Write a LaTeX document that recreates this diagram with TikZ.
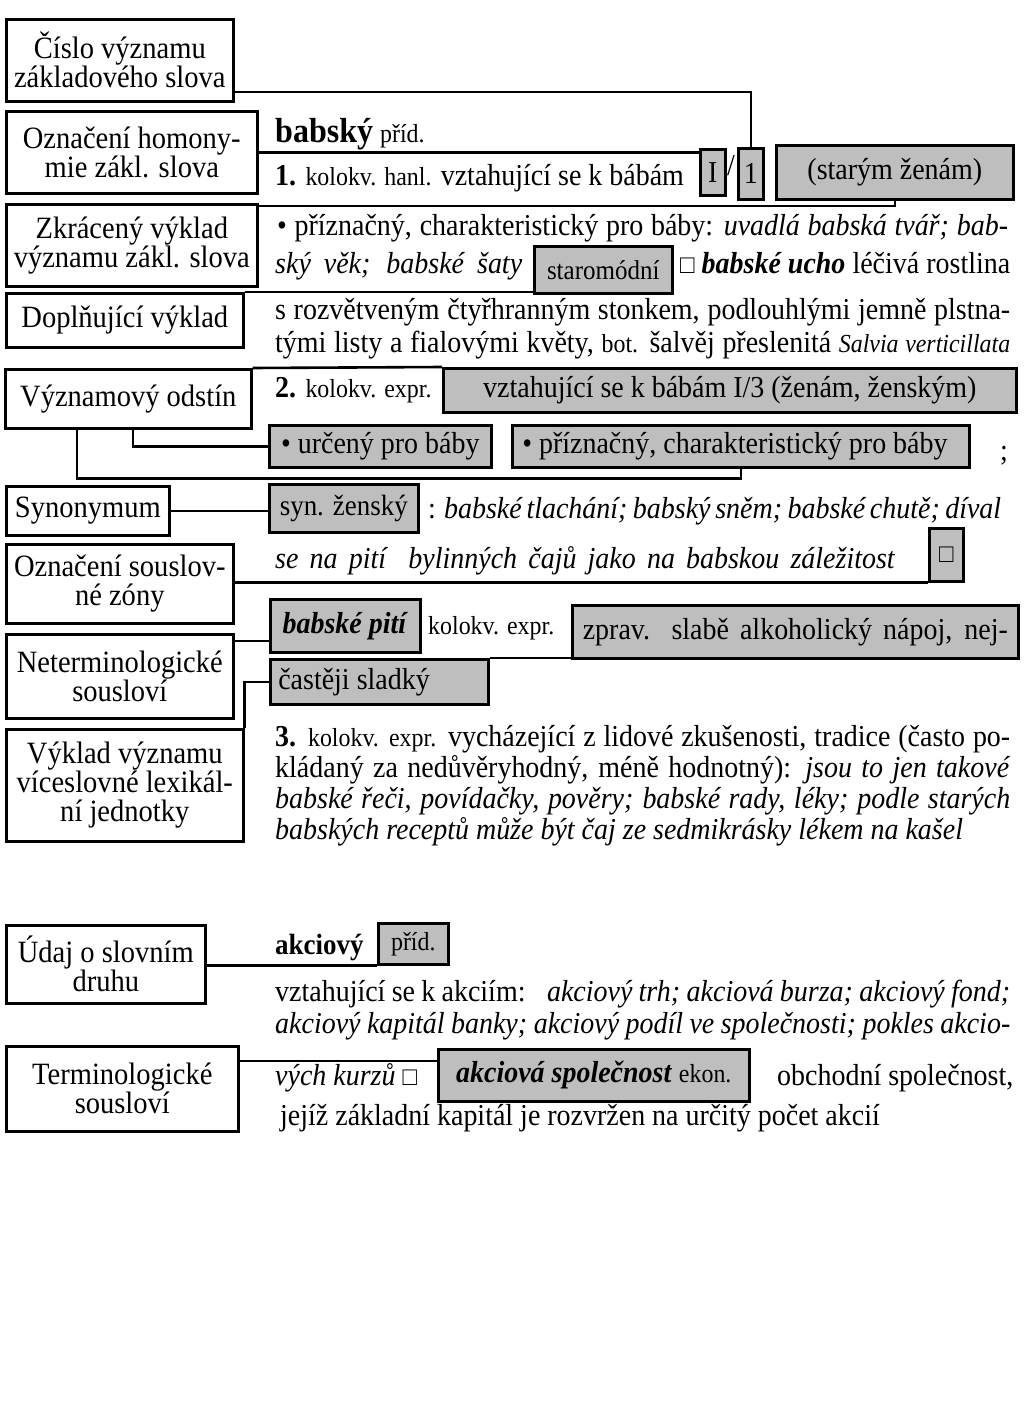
\documentclass[tikz,border=0pt]{standalone}
\usepackage{fontspec}
\setmainfont{Liberation Serif}[FakeStretch=0.92]
\usetikzlibrary{backgrounds}
\definecolor{boxgray}{RGB}{190,190,190}
\newcommand\nf{\fontsize{30.4}{31}\selectfont}
\newcommand\lf{\fontsize{31}{29}\selectfont}
\newcommand\sm{\fontsize{26}{27}\selectfont}
\newcommand\jl[2]{\makebox[#1pt][s]{#2}}
\begin{document}
\begin{tikzpicture}[x=1pt,y=-1pt,
 lbox/.style={draw, line width=2.6pt, fill=white, inner sep=0pt, anchor=north west, align=center, font=\lf},
 gbox/.style={draw, line width=2.6pt, fill=boxgray, inner sep=0pt, anchor=north west, align=center, font=\nf},
 conn/.style={line width=2.6pt},
 txt/.style={anchor=base west, inner sep=0pt, font=\nf}]
\useasboundingbox (0,0) rectangle (1024,1423);
% left boxes
\node[lbox, minimum width=227pt, minimum height=82pt] (cislo) at (5,18) {Číslo významu\\základového slova};
\node[lbox, minimum width=251pt, minimum height=82pt] (homon) at (5,110) {Označení homony-\\mie zákl. slova};
\node[lbox, minimum width=251pt, minimum height=82pt] (zkrac) at (5,203) {Zkrácený výklad\\významu zákl. slova};
\node[lbox, minimum width=237pt, minimum height=54pt] (dopl) at (5,292) {Doplňující výklad};
\node[lbox, minimum width=246pt, minimum height=59pt] (vyzn) at (4,368) {Významový odstín};
\node[lbox, minimum width=163pt, minimum height=49pt] (syn) at (5,485) {Synonymum};
\node[lbox, minimum width=227pt, minimum height=79pt] (ozna) at (5,543) {Označení souslov-\\né zóny};
\node[lbox, minimum width=227pt, minimum height=84pt] (neterm) at (5,633) {Neterminologické\\sousloví};
\node[lbox, minimum width=237pt, minimum height=112pt] (vyklad) at (5,728) {Výklad významu\\víceslovné lexikál-\\ní jednotky};
\node[lbox, minimum width=199pt, minimum height=78pt] (udaj) at (5,924) {Údaj o slovním\\druhu};
\node[lbox, minimum width=232pt, minimum height=85pt] (term) at (5,1045) {Terminologické\\sousloví};
% entry babsky
\node[txt] (hw1) at (275,143) {{\fontsize{34.8}{36}\selectfont\bfseries babský} {\sm příd.}};
\node[txt] (s1) at (275,186) {{\bfseries 1.} {\sm kolokv. hanl.} vztahující se k bábám};
\node[gbox, minimum width=25pt, minimum height=46pt] (romI) at (699,148) {I};
\node[anchor=base, inner sep=0pt, font=\nf] (slash) at (731,176) {/};
\node[gbox, minimum width=25pt, minimum height=51pt] (one) at (737,147) {1};
\node[gbox, minimum width=237pt, minimum height=54pt] (stary) at (775,144) {(starým ženám)};
\node[txt] (l1) at (277,236) {\jl{731}{• příznačný, charakteristický pro báby: \textit{uvadlá babská tvář; bab-}}};
\node[txt] (l2) at (275,273) {\jl{247}{\textit{ský věk; babské šaty}}};
\node[gbox, minimum width=138pt, minimum height=47pt, font=\fontsize{27.2}{28}\selectfont] (staro) at (533,245) {staromódní};
\node[txt] (l2b) at (680,273) {\jl{330}{{\sm □} \textbf{\textit{babské ucho}} léčivá rostlina}};
\node[txt] (l3) at (275,319) {\jl{735}{s rozvětveným čtyřhranným stonkem, podlouhlými jemně plstna-}};
\node[txt] (l4) at (275,352) {\jl{735}{tými listy a fialovými květy, {\sm bot.} šalvěj přeslenitá {\sm\itshape Salvia verticillata}}};
\node[txt] (s2) at (275,397) {{\bfseries 2.} {\sm kolokv. expr.}};
\node[gbox, minimum width=573pt, minimum height=44pt] (vztah) at (442,367) {vztahující se k bábám I/3 (ženám, ženským)};
\node[gbox, minimum width=222pt, minimum height=42pt] (urceny) at (268,424) {• určený pro báby};
\node[gbox, minimum width=457pt, minimum height=42pt] (priz) at (511,424) {\makebox[437pt][l]{• příznačný, charakteristický pro báby}};
\node[txt] (semi) at (1000,460) {;};
\node[gbox, minimum width=149pt, minimum height=48pt, font=\fontsize{29.3}{30}\selectfont] (synb) at (268,483) {syn. ženský};
\node[txt] (l5) at (428,518) {\jl{573}{: \textit{babské tlachání; babský sněm; babské chutě; díval}}};
\node[txt] (l6) at (275,568) {\jl{620}{\textit{se na pití \ bylinných čajů jako na babskou záležitost}}};
\node[gbox, minimum width=34pt, minimum height=53pt, font=\sm] (sq) at (928,527) {□};
\node[gbox, minimum width=150pt, minimum height=53pt] (piti) at (269,598) {\textbf{\textit{babské pití}}};
\node[txt, font=\sm] (ke) at (428,634) {kolokv. expr.};
\node[gbox, minimum width=446pt, minimum height=53pt] (zprav) at (571,604) {\jl{425}{zprav. slabě alkoholický nápoj, nej-}};
\node[gbox, minimum width=218pt, minimum height=45pt] (cast) at (269,658) {\makebox[202pt][l]{častěji sladký}};
\node[txt] (p1) at (275,746) {\jl{735}{{\bfseries 3.} {\sm kolokv. expr.} vycházející z lidové zkušenosti, tradice (často po-}};
\node[txt] (p2) at (275,777) {\jl{735}{kládaný za nedůvěryhodný, méně hodnotný): \textit{jsou to jen takové}}};
\node[txt] (p3) at (275,808) {\jl{735}{\textit{babské řeči, povídačky, pověry; babské rady, léky; podle starých}}};
\node[txt] (p4) at (275,839) {\textit{babských receptů může být čaj ze sedmikrásky lékem na kašel}};
% entry akciovy
\node[txt] (hw2) at (275,954) {\fontsize{29.3}{30}\selectfont\bfseries akciový};
\node[gbox, minimum width=70pt, minimum height=41pt, font=\sm] (prid) at (377,922) {příd.};
\node[txt] (b1) at (275,1001) {\jl{735}{vztahující se k akciím: \ \ \textit{akciový trh; akciová burza; akciový fond;}}};
\node[txt] (b2) at (275,1033) {\jl{735}{\textit{akciový kapitál banky; akciový podíl ve společnosti; pokles akcio-}}};
\node[txt] (b3) at (275,1085) {\textit{vých kurzů} {\sm □}};
\node[gbox, minimum width=311pt, minimum height=52pt] (akc) at (437,1048) {\textbf{\textit{akciová společnost}} {\sm ekon.}};
\node[txt] (b4) at (777,1085) {obchodní společnost,};
\node[txt] (b5) at (280,1125) {jejíž základní kapitál je rozvržen na určitý počet akcií};
% connectors
\begin{scope}[on background layer]
\coordinate (cs) at ([yshift=-74pt]cislo.north east);
\draw[conn] (cs) -| (one.north);
\draw[conn] (homon.east) -- (homon.east -| romI.west);
\coordinate (zk) at ([yshift=-3pt]zkrac.north east);
\draw[conn] (zk) -| (stary.south);
\draw[conn] (dopl.north east) -- (dopl.north east -| staro.west);
\draw[conn] (vyzn.north east) -- (vztah.north west);
\coordinate (v1) at ([xshift=129pt]vyzn.south west);
\draw[conn] (v1) |- (urceny.west);
\coordinate (v2) at ([xshift=73pt]vyzn.south west);
\draw[conn] (v2) -- ++(0,49) -| (priz.south);
\draw[conn] (syn.east) -- (syn.east -| synb.west);
\draw[conn] (ozna.east |- sq.south) -- (sq.south west);
\coordinate (nt) at ([yshift=-8pt]neterm.north east);
\draw[conn] (nt) -- (nt -| piti.west);
\draw[conn] (cast.north east) -- (cast.north east -| zprav.west);
\draw[conn] (vyklad.north east) |- (cast.west);
\draw[conn] (udaj.east |- prid.south) -- (prid.south west);
\coordinate (tm) at ([yshift=-16pt]term.north east);
\draw[conn] (tm) -- (tm -| akc.west);
\end{scope}
\end{tikzpicture}
\end{document}
